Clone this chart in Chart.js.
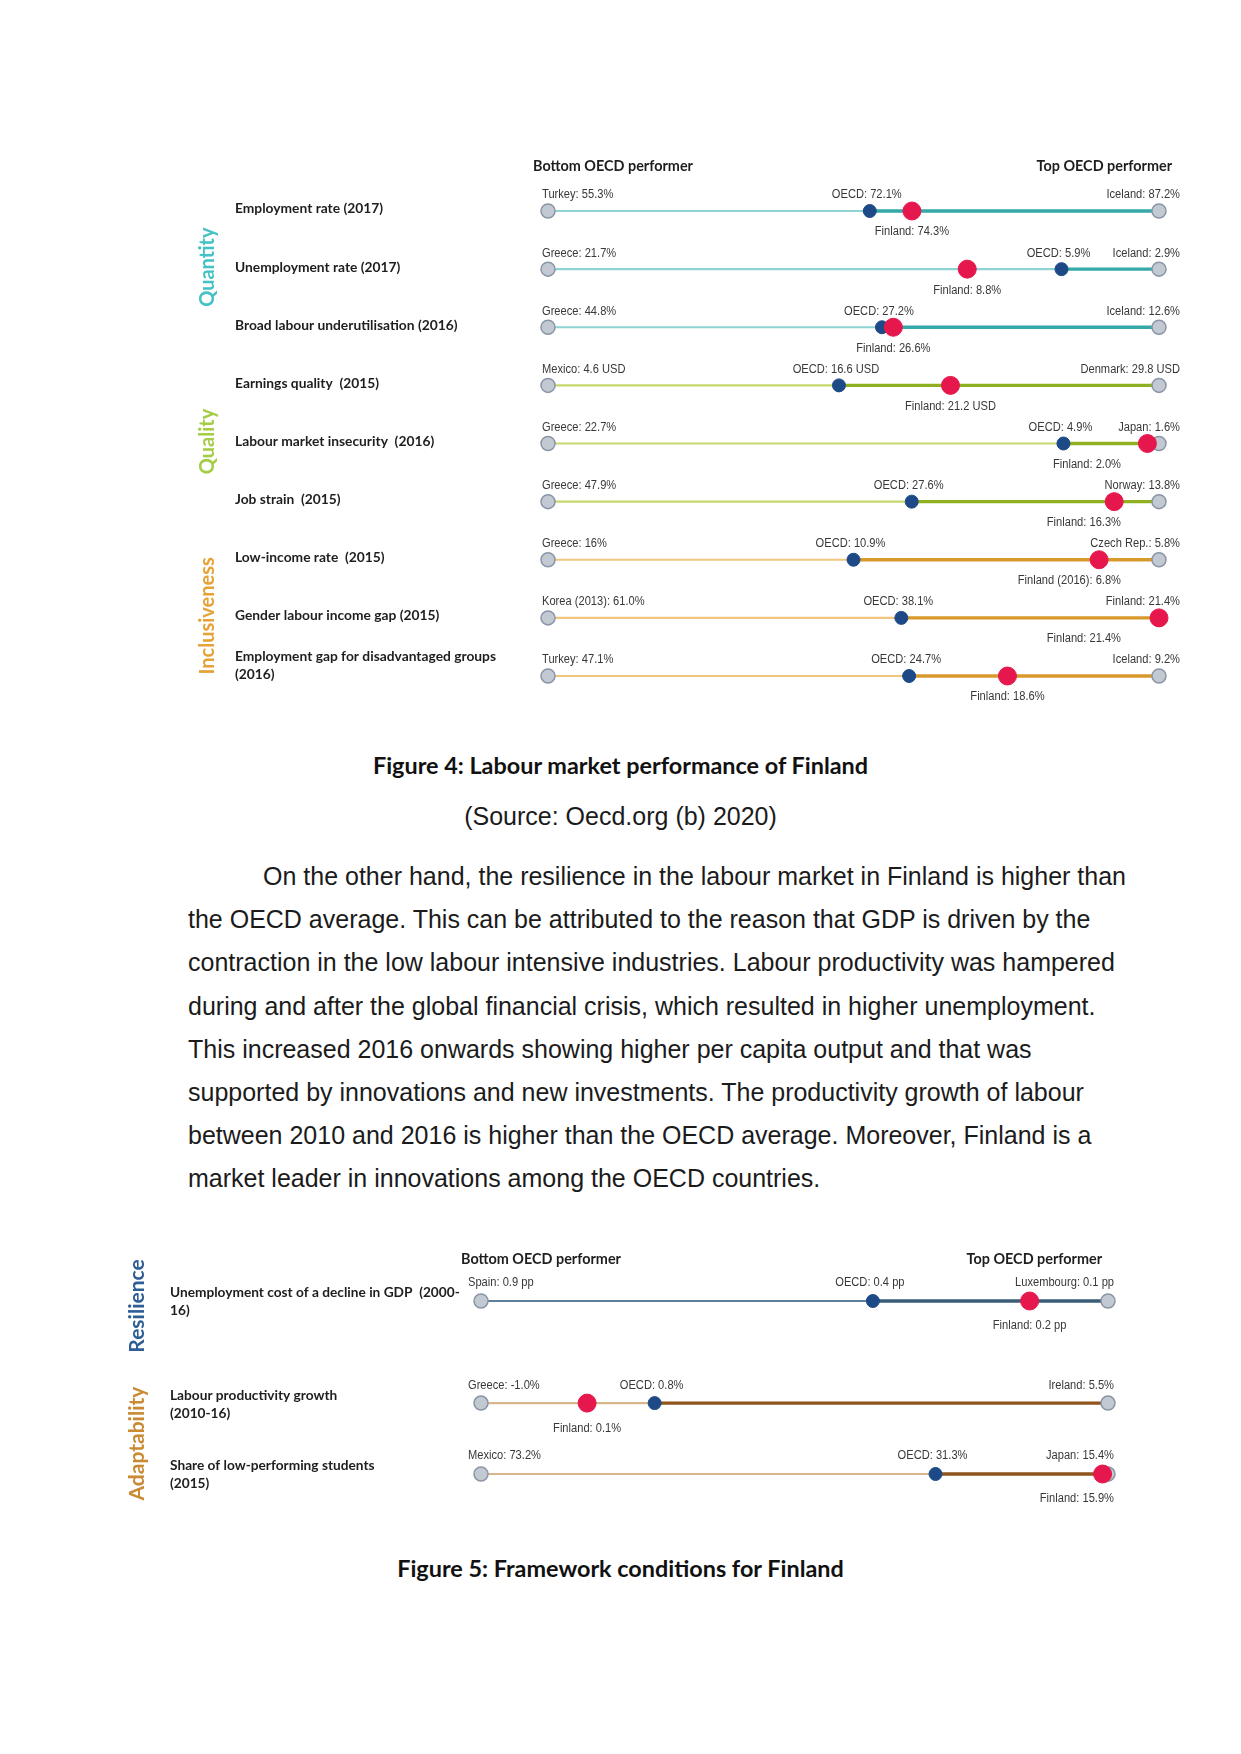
<!DOCTYPE html>
<html lang="en">
<head>
<meta charset="UTF-8">
<meta name="viewport" content="width=device-width, initial-scale=1.0">
<title>Labour market performance of Finland</title>
<style>
    body { margin: 0; background: #fff; }
    .page { position: relative; width: 1241px; height: 1754px; overflow: hidden;
            font-family: "Liberation Sans", Arial, sans-serif; color: #1b1b1b; }
    .page canvas { position: absolute; left: 0; }
    .caption { position: absolute; left: 0; width: 1241px; text-align: center; line-height: 30px;
               font-family: Lato, "Open Sans", sans-serif; font-weight: 700; font-size: 23.4px; color: #111; }
    .source { position: absolute; left: 0; width: 1241px; text-align: center; line-height: 30px; font-size: 25px; }
    .para { position: absolute; left: 188px; top: 855px; font-size: 25px; line-height: 43.2px; white-space: nowrap; }
    .para .indent { padding-left: 75px; }
</style>
</head>
<body>
<div class="page">
    <canvas id="fig4" width="1241" height="590" style="top:140px"></canvas>
    <div class="caption" style="top:750px">Figure 4: Labour market performance of Finland</div>
    <div class="source" style="top:801px">(Source: Oecd.org (b) 2020)</div>
    <div class="para">
        <div class="indent">On the other hand, the resilience in the labour market in Finland is higher than</div>
        <div>the OECD average. This can be attributed to the reason that GDP is driven by the</div>
        <div>contraction in the low labour intensive industries. Labour productivity was hampered</div>
        <div>during and after the global financial crisis, which resulted in higher unemployment.</div>
        <div>This increased 2016 onwards showing higher per capita output and that was</div>
        <div>supported by innovations and new investments. The productivity growth of labour</div>
        <div>between 2010 and 2016 is higher than the OECD average. Moreover, Finland is a</div>
        <div>market leader in innovations among the OECD countries.</div>
    </div>
    <canvas id="fig5" width="1241" height="280" style="top:1240px"></canvas>
    <div class="caption" style="top:1553px">Figure 5: Framework conditions for Finland</div>
</div>

<script src="https://cdn.jsdelivr.net/npm/chart.js"></script>
<script>
    // ---- Figure 4 data ----
    var fig4Indicators = [
        "Employment rate (2017)",
        "Unemployment rate (2017)",
        "Broad labour underutilisation (2016)",
        "Earnings quality  (2015)",
        "Labour market insecurity  (2016)",
        "Job strain  (2015)",
        "Low-income rate  (2015)",
        "Gender labour income gap (2015)",
        ["Employment gap for disadvantaged groups", "(2016)"]
    ];
    var fig4Sections = ["Quantity", "Quantity", "Quantity", "Quality", "Quality", "Quality",
                        "Inclusiveness", "Inclusiveness", "Inclusiveness"];
    var fig4Bottom = [55.3, 21.7, 44.8, 4.6, 22.7, 47.9, 16, 61.0, 47.1];
    var fig4BottomText = ["Turkey: 55.3%", "Greece: 21.7%", "Greece: 44.8%", "Mexico: 4.6 USD", "Greece: 22.7%",
                          "Greece: 47.9%", "Greece: 16%", "Korea (2013): 61.0%", "Turkey: 47.1%"];
    var fig4Top = [87.2, 2.9, 12.6, 29.8, 1.6, 13.8, 5.8, 21.4, 9.2];
    var fig4TopText = ["Iceland: 87.2%", "Iceland: 2.9%", "Iceland: 12.6%", "Denmark: 29.8 USD", "Japan: 1.6%",
                       "Norway: 13.8%", "Czech Rep.: 5.8%", "Finland: 21.4%", "Iceland: 9.2%"];
    var fig4Oecd = [72.1, 5.9, 27.2, 16.6, 4.9, 27.6, 10.9, 38.1, 24.7];
    var fig4OecdText = ["OECD: 72.1%", "OECD: 5.9%", "OECD: 27.2%", "OECD: 16.6 USD", "OECD: 4.9%",
                        "OECD: 27.6%", "OECD: 10.9%", "OECD: 38.1%", "OECD: 24.7%"];
    var fig4Finland = [74.3, 8.8, 26.6, 21.2, 2.0, 16.3, 6.8, 21.4, 18.6];
    var fig4FinlandText = ["Finland: 74.3%", "Finland: 8.8%", "Finland: 26.6%", "Finland: 21.2 USD", "Finland: 2.0%",
                           "Finland: 16.3%", "Finland (2016): 6.8%", "Finland: 21.4%", "Finland: 18.6%"];

    // ---- Figure 5 data ----
    var fig5Indicators = [
        ["Unemployment cost of a decline in GDP  (2000-", "16)"],
        ["Labour productivity growth", "(2010-16)"],
        ["Share of low-performing students", "(2015)"]
    ];
    var fig5Sections = ["Resilience", "Adaptability", "Adaptability"];
    var fig5Bottom = [0.9, -1.0, 73.2];
    var fig5BottomText = ["Spain: 0.9 pp", "Greece: -1.0%", "Mexico: 73.2%"];
    var fig5Top = [0.1, 5.5, 15.4];
    var fig5TopText = ["Luxembourg: 0.1 pp", "Ireland: 5.5%", "Japan: 15.4%"];
    var fig5Oecd = [0.4, 0.8, 31.3];
    var fig5OecdText = ["OECD: 0.4 pp", "OECD: 0.8%", "OECD: 31.3%"];
    var fig5Finland = [0.2, 0.1, 15.9];
    var fig5FinlandText = ["Finland: 0.2 pp", "Finland: 0.1%", "Finland: 15.9%"];

    // colours per dimension: [light line, dark line, title]
    var sectionColors = {
        Quantity:      ["#8fd3d5", "#35a8a9", "#45c2c3"],
        Quality:       ["#c5d86c", "#8fb021", "#a5cc45"],
        Inclusiveness: ["#f1c57e", "#d8992c", "#e6a236"],
        Resilience:    ["#5f7f99", "#3a5c78", "#2f5e94"],
        Adaptability:  ["#dab68f", "#8f531c", "#c98a33"]
    };

    var SQUEEZE = 0.89;

    function narrowText(ctx, text, x, y, align) {
        var w = ctx.measureText(text).width * SQUEEZE;
        var left = align === "left" ? x : (align === "right" ? x - w : x - w / 2);
        ctx.save();
        ctx.translate(left, y);
        ctx.scale(SQUEEZE, 1);
        ctx.textAlign = "left";
        ctx.fillText(text, 0, 0);
        ctx.restore();
    }

    function drawFigure(canvasId, fig, st) {
        var n = fig.indicators.length;
        var sectionNames = [];
        var rowY = [];
        for (var i = 0; i < n; i++) {
            if (sectionNames.indexOf(fig.sections[i]) < 0) sectionNames.push(fig.sections[i]);
            rowY.push(i + (sectionNames.length - 1) * st.sectionGap);
        }
        function pos(v, i) {
            return (v - fig.bottom[i]) / (fig.top[i] - fig.bottom[i]);
        }

        var datasets = [];
        datasets.push({
            label: "Finland",
            data: fig.finland.map(function (v, i) { return { x: pos(v, i), y: rowY[i] }; }),
            pointRadius: st.finRadius, backgroundColor: "#e6174c", borderColor: "#e6174c", borderWidth: 1
        });
        datasets.push({
            label: "OECD",
            data: fig.oecd.map(function (v, i) { return { x: pos(v, i), y: rowY[i] }; }),
            pointRadius: st.oecdRadius, backgroundColor: "#1d4a86", borderColor: "#1d4a86", borderWidth: 1
        });
        var ends = [];
        for (var i = 0; i < n; i++) {
            ends.push({ x: pos(fig.bottom[i], i), y: rowY[i] });
            ends.push({ x: pos(fig.top[i], i), y: rowY[i] });
        }
        datasets.push({
            label: "Ends", data: ends,
            pointRadius: st.endRadius, backgroundColor: "#c3c9d2", borderColor: "#8a95a5", borderWidth: 1.5
        });
        for (var i = 0; i < n; i++) {
            var c = sectionColors[fig.sections[i]];
            var xo = pos(fig.oecd[i], i);
            datasets.push({
                data: [{ x: 0, y: rowY[i] }, { x: xo, y: rowY[i] }],
                showLine: true, borderColor: c[0], borderWidth: 2.2, pointRadius: 0
            });
            datasets.push({
                data: [{ x: xo, y: rowY[i] }, { x: 1, y: rowY[i] }],
                showLine: true, borderColor: c[1], borderWidth: 3.4, pointRadius: 0
            });
        }
        datasets.forEach(function (d) { d.clip = false; });

        var textPlugin = {
            id: "rowText",
            afterDraw: function (chart) {
                var ctx = chart.ctx;
                var sx = chart.scales.x, sy = chart.scales.y;
                var x0 = sx.getPixelForValue(0), x1 = sx.getPixelForValue(1);
                var yFirst = sy.getPixelForValue(rowY[0]);
                ctx.save();
                ctx.fillStyle = "#1e1e1e";
                ctx.textBaseline = "middle";

                // headers
                ctx.font = "bold 14.4px Lato";
                ctx.textAlign = "left";
                ctx.fillText("Bottom OECD performer", x0 + st.headerLeftDx, yFirst - st.headerDy);
                ctx.textAlign = "right";
                ctx.fillText("Top OECD performer", x1 + st.headerRightDx, yFirst - st.headerDy);

                // dimension titles
                sectionNames.forEach(function (s) {
                    var ys = [];
                    for (var i = 0; i < n; i++) if (fig.sections[i] === s) ys.push(sy.getPixelForValue(rowY[i]));
                    var yc = (Math.min.apply(null, ys) + Math.max.apply(null, ys)) / 2 + st.sectionDy;
                    ctx.save();
                    ctx.translate(st.sectionX, yc);
                    ctx.rotate(-Math.PI / 2);
                    ctx.textAlign = "center";
                    ctx.fillStyle = sectionColors[s][2];
                    ctx.font = "bold " + st.sectionFont + "px Lato";
                    ctx.fillText(s, 0, 0);
                    ctx.restore();
                });

                // indicator names
                ctx.font = "bold " + st.rowFont + "px Lato";
                ctx.textAlign = "left";
                for (var i = 0; i < n; i++) {
                    var lines = [].concat(fig.indicators[i]);
                    var y = sy.getPixelForValue(rowY[i]) + st.rowDy - (lines.length - 1) * st.rowLine / 2;
                    if (lines.length > 1) y += st.multiDy;
                    lines.forEach(function (t, k) { ctx.fillText(t, st.rowX, y + k * st.rowLine); });
                }

                // value labels
                ctx.font = st.labelFont + "px 'Liberation Sans'";
                ctx.fillStyle = "#383838";
                for (var i = 0; i < n; i++) {
                    var y = sy.getPixelForValue(rowY[i]);
                    var xb = sx.getPixelForValue(pos(fig.bottom[i], i));
                    var xt = sx.getPixelForValue(pos(fig.top[i], i));
                    var xo = sx.getPixelForValue(pos(fig.oecd[i], i));
                    var xf = sx.getPixelForValue(pos(fig.finland[i], i));
                    narrowText(ctx, fig.bottomText[i], xb + st.bottomDx, y - st.aboveDy, "left");
                    narrowText(ctx, fig.topText[i], xt + st.topDx, y - st.aboveDy, "right");
                    narrowText(ctx, fig.oecdText[i], xo - 3, y - st.aboveDy, "center");
                    var wf = ctx.measureText(fig.finlandText[i]).width * SQUEEZE;
                    var right = Math.min(xf + wf / 2, xt + st.finClamp);
                    narrowText(ctx, fig.finlandText[i], right, y + st.belowDy, "right");
                }
                ctx.restore();
            }
        };

        new Chart(document.getElementById(canvasId), {
            type: "scatter",
            data: { datasets: datasets },
            options: {
                responsive: false,
                animation: false,
                events: [],
                layout: { padding: st.padding },
                scales: {
                    x: { type: "linear", min: 0, max: 1, display: false },
                    y: { type: "linear", min: 0, max: rowY[n - 1], reverse: true, display: false }
                },
                plugins: { legend: { display: false }, tooltip: { enabled: false } }
            },
            plugins: [textPlugin]
        });
    }

    drawFigure("fig4", {
        indicators: fig4Indicators, sections: fig4Sections,
        bottom: fig4Bottom, bottomText: fig4BottomText,
        top: fig4Top, topText: fig4TopText,
        oecd: fig4Oecd, oecdText: fig4OecdText,
        finland: fig4Finland, finlandText: fig4FinlandText
    }, {
        sectionGap: 0,
        padding: { left: 548, right: 82, top: 71, bottom: 54 },
        finRadius: 9, oecdRadius: 6.5, endRadius: 7,
        headerLeftDx: -15, headerRightDx: 13, headerDy: 45,
        sectionX: 208, sectionDy: -2, sectionFont: 20,
        rowX: 235, rowDy: -2, multiDy: -8, rowLine: 18, rowFont: 13.8,
        labelFont: 12.5, aboveDy: 16, belowDy: 21,
        bottomDx: -6, topDx: 21, finClamp: -38
    });

    drawFigure("fig5", {
        indicators: fig5Indicators, sections: fig5Sections,
        bottom: fig5Bottom, bottomText: fig5BottomText,
        top: fig5Top, topText: fig5TopText,
        oecd: fig5Oecd, oecdText: fig5OecdText,
        finland: fig5Finland, finlandText: fig5FinlandText
    }, {
        sectionGap: 0.44,
        padding: { left: 481, right: 133, top: 61, bottom: 46 },
        finRadius: 9, oecdRadius: 6.5, endRadius: 7,
        headerLeftDx: -20, headerRightDx: -6, headerDy: 42,
        sectionX: 137, sectionDy: 5, sectionFont: 21,
        rowX: 170, rowDy: 1, multiDy: 0, rowLine: 18, rowFont: 13.7,
        labelFont: 12.5, aboveDy: 18, belowDy: 25,
        bottomDx: -13, topDx: 6, finClamp: 6
    });
</script>
</body>
</html>
